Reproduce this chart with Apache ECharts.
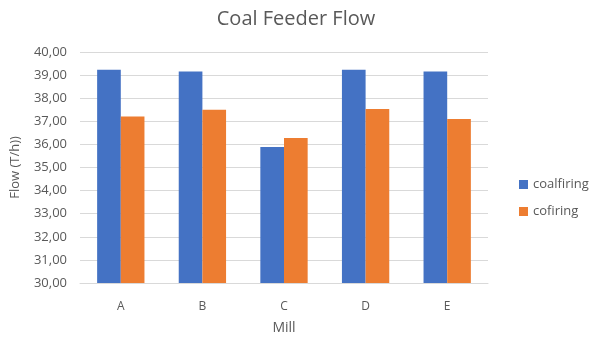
<!DOCTYPE html>
<html>
<head>
<meta charset="utf-8">
<script src="https://cdn.jsdelivr.net/npm/echarts@6/dist/echarts.min.js"></script>
<style>
  html, body { margin: 0; padding: 0; background: #fff; }
  #chart { width: 589px; height: 338px; }
</style>
</head>
<body>
<div id="chart"></div>
<script>
// Coal feeder flow per mill, coal-only vs cofiring
const mills = ['A', 'B', 'C', 'D', 'E'];
const coalfiring = [39.23, 39.16, 35.89, 39.23, 39.16];
const cofiring = [37.21, 37.50, 36.28, 37.53, 37.10];
const seriesNames = ['coalfiring', 'cofiring'];

const FONT = '"Open Sans", "Noto Sans", sans-serif';
const TEXT = '#595959';

const chart = echarts.init(document.getElementById('chart'), null, { renderer: 'canvas' });
chart.setOption({
  animation: false,
  title: {
    text: 'Coal Feeder Flow',
    left: 291,
    textAlign: 'center',
    top: 4,
    textStyle: { fontFamily: FONT, fontSize: 20, fontWeight: 'normal', color: TEXT }
  },
  legend: {
    orient: 'vertical',
    left: 514,
    top: 173,
    itemWidth: 9,
    itemHeight: 9,
    itemGap: 14,
    icon: 'rect',
    textStyle: { fontFamily: FONT, fontSize: 13, color: TEXT },
    data: seriesNames
  },
  grid: { left: 80, right: 101, top: 52, bottom: 55, outerBoundsMode: 'none' },
  xAxis: {
    type: 'category',
    data: mills,
    name: 'Mill',
    nameLocation: 'middle',
    nameGap: 38,
    nameTextStyle: { fontFamily: FONT, fontSize: 14, color: TEXT },
    axisTick: { show: false },
    axisLine: { lineStyle: { color: '#d9d9d9' } },
    axisLabel: { margin: 18, fontFamily: FONT, fontSize: 12, color: TEXT }
  },
  yAxis: {
    type: 'value',
    min: 30,
    max: 40,
    interval: 1,
    name: 'Flow (T/h))',
    nameLocation: 'middle',
    nameGap: 58,
    nameTextStyle: { fontFamily: FONT, fontSize: 13, color: TEXT },
    axisLine: { show: false },
    axisTick: { show: false },
    splitLine: { lineStyle: { color: '#d9d9d9' } },
    axisLabel: {
      margin: 13,
      fontFamily: FONT,
      fontSize: 13,
      color: TEXT,
      formatter: v => v.toFixed(2).replace('.', ',')
    }
  },
  series: [
    {
      name: seriesNames[0],
      type: 'bar',
      data: coalfiring,
      barGap: '0%',
      barCategoryGap: '42%',
      itemStyle: { color: '#4472C4' }
    },
    {
      name: seriesNames[1],
      type: 'bar',
      data: cofiring,
      itemStyle: { color: '#ED7D31' }
    }
  ]
});
</script>
</body>
</html>
